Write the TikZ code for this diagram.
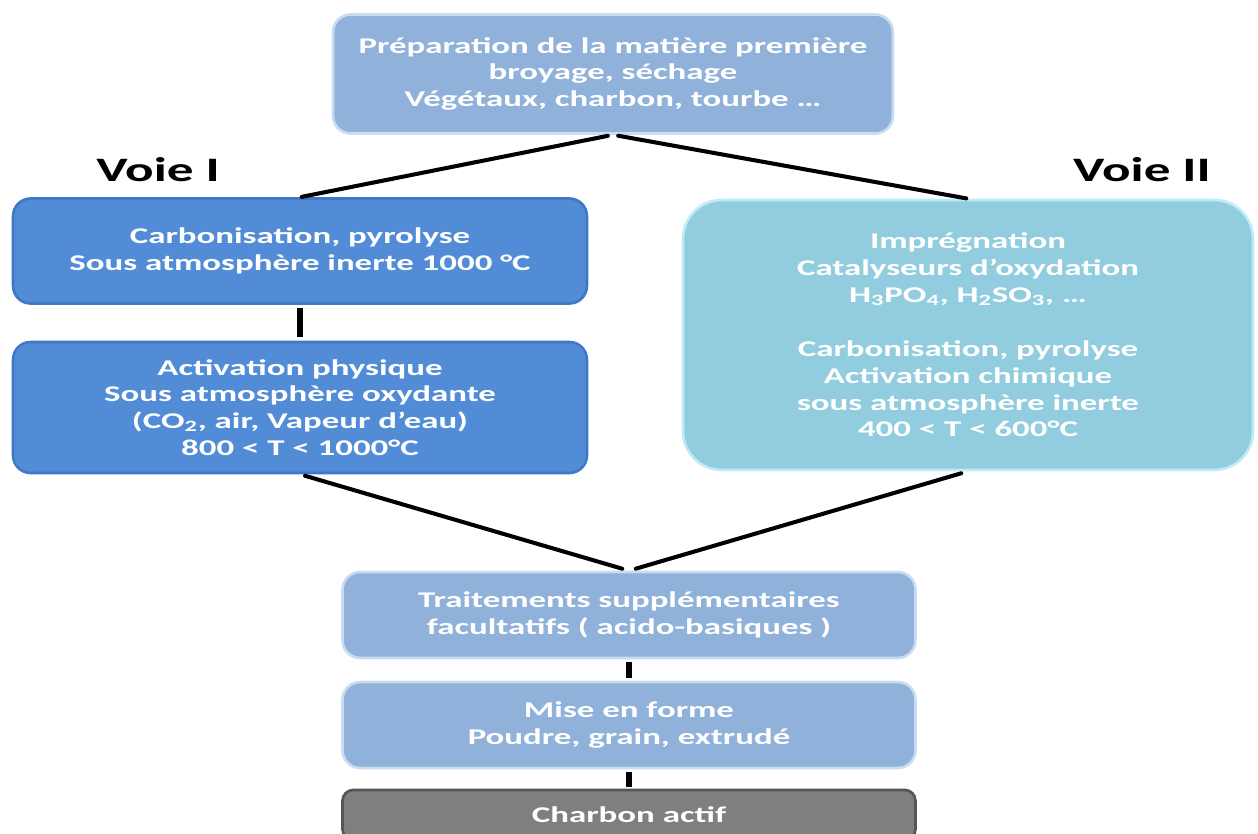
\documentclass[tikz,border=0pt]{standalone}
\usepackage{fontspec}
\newfontfamily\slidefont{Carlito}[FakeStretch=1.55]
\usetikzlibrary{positioning}

\definecolor{paleblue}{HTML}{8FB1DA}
\definecolor{paleedge}{HTML}{C9DDF2}
\definecolor{midblue}{HTML}{538CD6}
\definecolor{midedge}{HTML}{3F78C6}
\definecolor{cyanblue}{HTML}{92CDDF}
\definecolor{cyanedge}{HTML}{BDEBF7}
\definecolor{coalgrey}{HTML}{7F7F7F}
\definecolor{coaledge}{HTML}{555555}

\tikzset{
  stage/.style={draw=paleedge, fill=paleblue, line width=1.5pt, rounded corners=10pt,
    align=center, text=white, inner sep=0pt,
    font=\slidefont\bfseries\fontsize{12.8}{15.3}\selectfont},
  voie/.style={font=\slidefont\bfseries\fontsize{19.5}{22}\selectfont, text=black},
  link/.style={line width=2.3pt, line cap=round},
  stub/.style={line width=3.6pt, shorten >=2pt, shorten <=2pt}
}

\begin{document}
\begin{tikzpicture}[x=0.02cm, y=-0.02cm]
  \clip (0,0) rectangle (1258,834);
  \fill[white] (0,0) rectangle (1258,834);
  % top of the chart
  \node[stage, minimum width=11.2cm, minimum height=2.38cm] (prep) at (613,74)
    {Préparation de la matière première\\ broyage, séchage\\ Végétaux, charbon, tourbe …};
  \node[voie] (voieA) at (158,170) {Voie I};
  \node[voie] (voieB) at (1142,170) {Voie II};
  % voie I
  \node[stage, fill=midblue, draw=midedge, minimum width=11.48cm, minimum height=2.1cm] (carbo) at (300,251)
    {Carbonisation, pyrolyse\\ Sous atmosphère inerte 1000 °C};
  \node[stage, fill=midblue, draw=midedge, minimum width=11.48cm, minimum height=2.62cm] (activ) at (300,407.5)
    {Activation physique\\ Sous atmosphère oxydante\\ (CO\textsubscript{2}, air, Vapeur d’eau)\\ 800 < T < 1000°C};
  % voie II
  \node[stage, fill=cyanblue, draw=cyanedge, rounded corners=22pt, minimum width=11.4cm, minimum height=5.4cm] (impreg) at (968,335)
    {Imprégnation\\ Catalyseurs d’oxydation\\ H\textsubscript{3}PO\textsubscript{4}, H\textsubscript{2}SO\textsubscript{3}, …\\[15.3pt]
     Carbonisation, pyrolyse\\ Activation chimique\\ sous atmosphère inerte\\ 400 < T < 600°C};
  % common end
  \node[stage, minimum width=11.46cm, minimum height=1.72cm] (trait) at (629,615)
    {Traitements supplémentaires\\ facultatifs ( acido-basiques )};
  \node[stage, minimum width=11.46cm, minimum height=1.72cm] (forme) at (629,725)
    {Mise en forme\\ Poudre, grain, extrudé};
  \node[stage, fill=coalgrey, draw=coaledge, rounded corners=6pt, minimum width=11.46cm, minimum height=1.0cm] (coal) at (629,815)
    {Charbon actif};

  \draw[link, shorten <=3pt, shorten >=1pt] (prep.south) -- (carbo.north);
  \draw[link, shorten <=3pt, shorten >=1pt] (prep.south) -- (impreg.north);
  \draw[stub] (carbo) -- (activ);
  \draw[link, shorten <=3pt, shorten >=4pt] (activ.south) -- (trait.north);
  \draw[link, shorten <=4pt, shorten >=4pt] (impreg.south) -- (trait.north);
  \draw[stub, shorten >=1.5pt, shorten <=1.5pt] (trait) -- (forme);
  \draw[stub, shorten >=1pt, shorten <=1.5pt] (forme) -- (coal);
\end{tikzpicture}
\end{document}
